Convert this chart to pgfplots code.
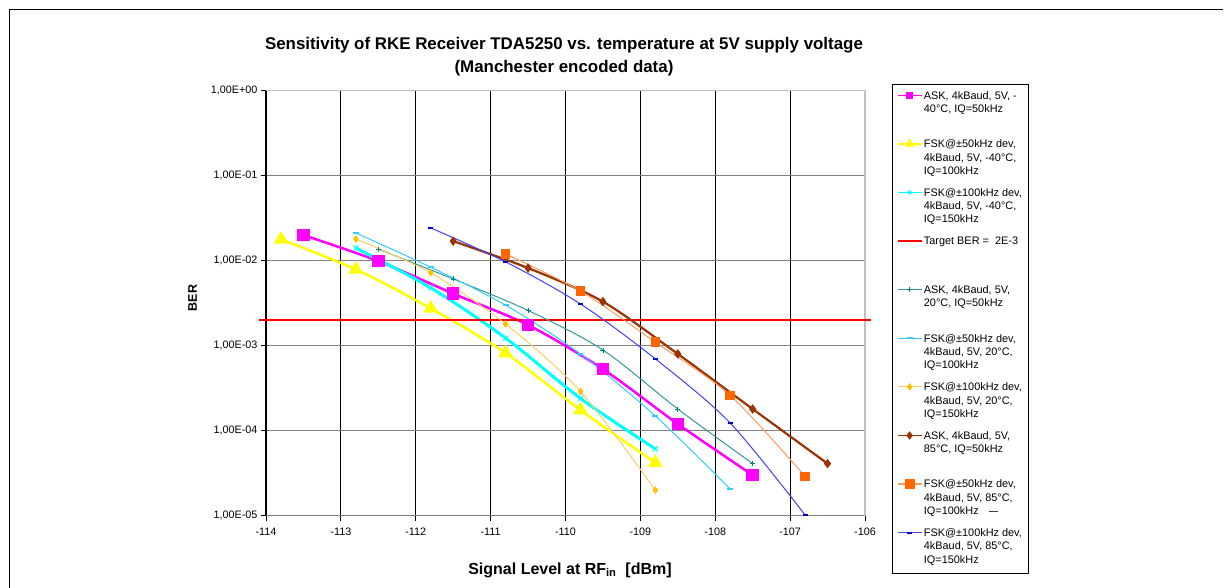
\documentclass[border=0pt]{standalone}
\usepackage{pgfplots}
\pgfplotsset{compat=1.18}
\usepackage{fontspec}
\setmainfont{Liberation Sans}
\definecolor{cMag}{HTML}{FF00FF}
\definecolor{cYel}{HTML}{FFFF00}
\definecolor{cCya}{HTML}{00FFFF}
\definecolor{cRed}{HTML}{FF0000}
\definecolor{cTeal}{HTML}{339999}
\definecolor{cTealM}{HTML}{008080}
\definecolor{cLCy}{HTML}{33CCFF}
\definecolor{cGold}{HTML}{FFCC66}
\definecolor{cGoldM}{HTML}{FFC000}
\definecolor{cBrown}{HTML}{993300}
\definecolor{cOrL}{HTML}{FF9966}
\definecolor{cOrM}{HTML}{FF6600}
\definecolor{cBlue}{HTML}{4040FF}
\definecolor{cBlueM}{HTML}{0000CC}
\definecolor{gridH}{HTML}{808080}
\definecolor{frameL}{HTML}{C0C0C0}
\newcommand{\LE}[2][48.6pt]{\raisebox{-3.8pt}{\parbox[t][#1][t]{100pt}{\raggedright\strut #2}}}
\begin{document}
\begin{tikzpicture}
\useasboundingbox (0,0) rectangle (1227pt,-587pt);
\draw[black, line width=1pt] (9.5pt,-590pt) -- (9.5pt,-9.5pt) -- (1223pt,-9.5pt);
\node[anchor=base, font=\bfseries\fontsize{16.9}{20}\selectfont] at (564pt,-49pt) {Sensitivity of RKE Receiver TDA5250 vs. temperature at 5V supply voltage};
\node[anchor=base, font=\bfseries\fontsize{16.9}{20}\selectfont] at (564pt,-72pt) {(Manchester encoded data)};
\node[anchor=base, font=\bfseries\fontsize{16}{19}\selectfont] at (570pt,-574pt) {Signal Level at RF\textsubscript{in}\ \ [dBm]};
\node[rotate=90, font=\bfseries\fontsize{12.5}{15}\selectfont] at (192.5pt,-298pt) {BER};
\begin{axis}[
  at={(266pt,-515.7pt)}, anchor=south west,
  scale only axis, width=599pt, height=425pt,
  xmin=-114, xmax=-106, ymode=log, ymin=1e-5, ymax=1,
  clip=false,
  xtick={-114,-113,-112,-111,-110,-109,-108,-107,-106},
  xticklabels={-114,-113,-112,-111,-110,-109,-108,-107,-106},
  ytick={1e-5,1e-4,1e-3,1e-2,1e-1,1},
  yticklabels={{1,00E-05},{1,00E-04},{1,00E-03},{1,00E-02},{1,00E-01},{1,00E+00}},
  minor tick num=0, yminorticks=false,
  tick label style={font=\fontsize{10.8}{12}\selectfont},
  xticklabel style={yshift=-3.5pt},
  xtick pos=bottom, ytick pos=left, tick align=outside,
  major tick length=5pt, tick style={black, line width=0.8pt},
  grid=major,
  x grid style={black, line width=1.2pt},
  y grid style={gridH, line width=1.2pt},
  axis line style={draw=none},
  legend style={at={(1.04508,1.01576)}, anchor=north west, draw=black, line width=0.8pt,
    fill=white, inner xsep=4.5pt, inner ysep=5.4pt, row sep=0pt, column sep=1.5pt,
    nodes={inner sep=0pt, text depth={}, text height={}}, cells={anchor=base west},
    font=\fontsize{10.9}{13.3}\selectfont},
  legend image code/.code={\draw[mark repeat=2,mark phase=2,#1] plot coordinates {(0pt,0pt) (12pt,0pt) (24pt,0pt)};},
]
\draw[black, line width=1pt] (rel axis cs:0,0) -- (rel axis cs:0,1);
\draw[gridH, line width=1.2pt] (rel axis cs:0,0) -- (rel axis cs:1,0);
\draw[frameL, line width=1.5pt] (rel axis cs:0,1) -- (rel axis cs:1,1) -- (rel axis cs:1,0);

\addplot[color=cMag, line width=2.5pt, smooth, mark=square*, mark size=5pt, mark options={solid},
  legend image post style={mark size=3pt, line width=1.5pt}]
  coordinates {(-113.5,0.0200) (-112.5,0.0099) (-111.5,0.0041) (-110.5,0.00175) (-109.5,0.00053) (-108.5,0.00012) (-107.5,0.000030)};
\addlegendentry{\LE{ASK, 4kBaud, 5V, -\newline 40°C, IQ=50kHz}}

\addplot[color=cYel, line width=2.5pt, smooth, mark=triangle*, mark size=6pt,
  legend image post style={mark size=4pt, line width=1.5pt}]
  coordinates {(-113.8,0.0178) (-112.8,0.0079) (-111.8,0.00275) (-110.8,0.00082) (-109.8,0.000175) (-108.8,0.000042)};
\addlegendentry{\LE{FSK@±50kHz dev,\newline 4kBaud, 5V, -40°C,\newline IQ=100kHz}}

\addplot[color=cCya, line width=3pt, smooth, mark=x, mark size=3.5pt, mark options={line width=1pt},
  legend image post style={mark size=2.5pt, line width=1pt}]
  coordinates {(-112.8,0.0141) (-111.8,0.0048) (-110.8,0.00123) (-109.8,0.00024) (-108.8,0.000061)};
\addlegendentry{\LE{FSK@±100kHz dev,\newline 4kBaud, 5V, -40°C,\newline IQ=150kHz}}

\addplot[color=cRed, draw=cRed, line width=1.5pt, mark=none]
  coordinates {(-114.094,0.002) (-105.92,0.002)};
\addlegendentry{\LE{Target BER =\ \ 2E-3}}

\addplot[color=cTeal, line width=1pt, smooth, mark=+, mark size=2.5pt, mark options={cTealM, line width=0.8pt}]
  coordinates {(-112.5,0.0137) (-111.5,0.0061) (-110.5,0.0026) (-109.5,0.00089) (-108.5,0.00018) (-107.5,0.000041)};
\addlegendentry{\LE{ASK, 4kBaud, 5V,\newline 20°C, IQ=50kHz}}

\addplot[color=cLCy, line width=1pt, smooth, mark=-, mark size=3pt, mark options={line width=2pt}]
  coordinates {(-112.8,0.0212) (-111.8,0.0084) (-110.8,0.0030) (-109.8,0.00080) (-108.8,0.000149) (-107.8,0.0000206)};
\addlegendentry{\LE{FSK@±50kHz dev,\newline 4kBaud, 5V, 20°C,\newline IQ=100kHz}}

\addplot[color=cGold, line width=1pt, smooth, mark=diamond*, mark size=3pt, mark options={cGoldM}]
  coordinates {(-112.8,0.0180) (-111.8,0.0072) (-110.8,0.0018) (-109.8,0.00029) (-108.8,0.000020)};
\addlegendentry{\LE{FSK@±100kHz dev,\newline 4kBaud, 5V, 20°C,\newline IQ=150kHz}}

\addplot[color=cBrown, line width=2.2pt, smooth, mark=diamond*, mark size=3pt,
  legend image post style={line width=1.5pt}]
  coordinates {(-111.5,0.0170) (-110.5,0.0082) (-109.5,0.0033) (-108.5,0.00080) (-107.5,0.00018) (-106.5,0.000041)};
\addlegendentry{\LE{ASK, 4kBaud, 5V,\newline 85°C, IQ=50kHz}}

\addplot[color=cOrL, line width=1pt, smooth, mark=square*, mark size=4.3pt, mark options={cOrM},
  legend image post style={line width=1.5pt}]
  coordinates {(-110.8,0.0120) (-109.8,0.0044) (-108.8,0.0011) (-107.8,0.00026) (-106.8,0.000029)};
\addlegendentry{\LE{FSK@±50kHz dev,\newline 4kBaud, 5V, 85°C,\newline IQ=100kHz\hspace{10pt}\textcolor{darkgray}{\rule[2.5pt]{9pt}{0.8pt}}}}

\addplot[color=cBlue, line width=1pt, smooth, mark=-, mark size=2.5pt, mark options={cBlueM, line width=2pt}]
  coordinates {(-111.8,0.0243) (-110.8,0.0097) (-109.8,0.0031) (-108.8,0.00070) (-107.8,0.000123) (-106.8,0.0000102)};
\addlegendentry{\LE[40.5pt]{FSK@±100kHz dev,\newline 4kBaud, 5V, 85°C,\newline IQ=150kHz}}
\end{axis}
\end{tikzpicture}
\end{document}
